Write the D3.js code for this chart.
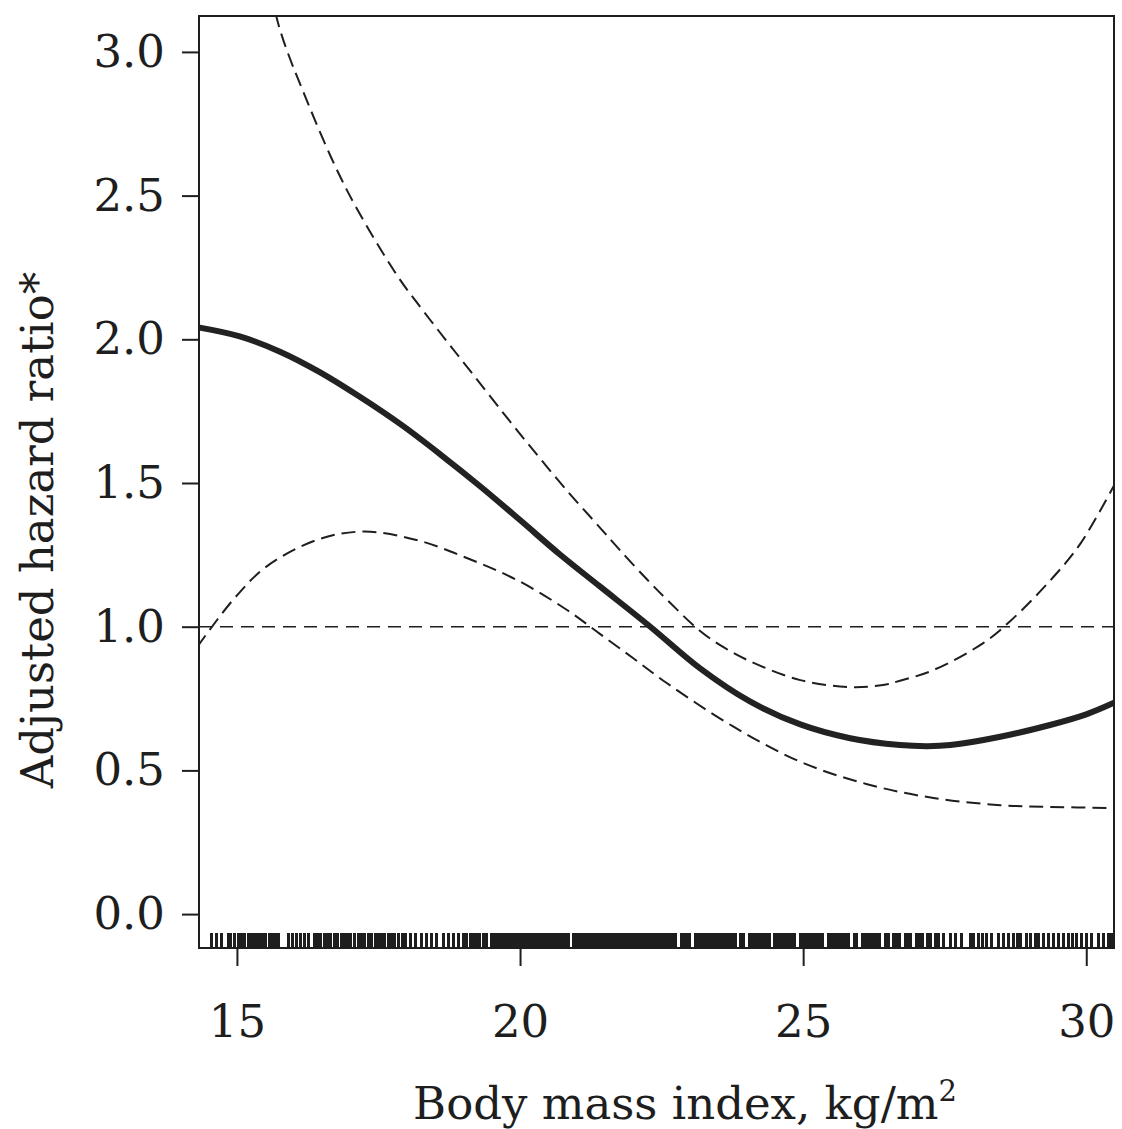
<!DOCTYPE html>
<html>
<head>
<meta charset="utf-8">
<script src="https://cdn.jsdelivr.net/npm/d3@7"></script>
<style>
  html, body { margin: 0; padding: 0; background: #ffffff; }
  svg { display: block; }
  text { font-family: "DejaVu Serif", "Liberation Serif", serif; fill: #1e1e1e; }
</style>
</head>
<body>
<svg id="chart" width="1122" height="1129"></svg>
<script>
// ---------- data ----------
const estimateBMI = [14.30, 15.05, 15.76, 16.47, 17.17, 17.90, 18.59, 19.30, 20.00, 20.70, 21.41, 22.30, 23.18, 24.06, 24.95, 25.83, 26.71, 27.20, 27.60, 28.48, 29.36, 30.00, 30.50];
const estimateHR  = [2.042, 2.010, 1.957, 1.885, 1.800, 1.703, 1.600, 1.488, 1.371, 1.252, 1.140, 1.000, 0.855, 0.740, 0.660, 0.612, 0.588, 0.584, 0.588, 0.617, 0.658, 0.695, 0.736];

const upperBMI = [15.50, 15.72, 16.23, 16.94, 17.82, 18.17, 18.70, 19.06, 19.88, 20.23, 20.80, 21.41, 21.77, 22.24, 22.59, 23.18, 23.60, 24.06, 24.95, 25.83, 26.41, 26.71, 27.30, 28.18, 28.66, 29.36, 29.90, 30.50];
const upperHR  = [3.350, 3.105, 2.833, 2.520, 2.225, 2.130, 1.995, 1.905, 1.700, 1.615, 1.480, 1.345, 1.265, 1.165, 1.095, 0.985, 0.928, 0.880, 0.814, 0.790, 0.797, 0.812, 0.849, 0.943, 1.020, 1.160, 1.290, 1.495];

const lowerBMI = [14.30, 14.93, 15.52, 16.41, 17.23, 18.17, 19.06, 19.94, 20.83, 21.41, 22.00, 22.59, 23.77, 24.95, 26.13, 27.30, 28.48, 29.36, 30.50];
const lowerHR  = [0.930, 1.093, 1.209, 1.302, 1.331, 1.302, 1.239, 1.163, 1.058, 0.975, 0.890, 0.804, 0.652, 0.530, 0.452, 0.404, 0.379, 0.373, 0.369];

const referenceHR = 1.0;

const rugBMI = [
  14.55, 14.64, 14.73, 14.85, 14.89, 14.95, 15.02, 15.08, 15.14, 15.20, 15.25, 15.31, 15.37, 15.41, 15.46, 15.51, 15.57, 15.62, 15.68, 15.74,
  15.91, 15.98, 16.05, 16.13, 16.20, 16.27, 16.37, 16.43, 16.48, 16.54, 16.60, 16.66, 16.72, 16.78, 16.84, 16.90, 16.96, 17.01, 17.07, 17.14,
  17.20, 17.26, 17.33, 17.38, 17.44, 17.50, 17.56, 17.61, 17.67, 17.73, 17.79, 17.86, 17.92, 17.98, 18.06, 18.15, 18.26, 18.35, 18.44, 18.53,
  18.65, 18.73, 18.82, 18.91, 19.00, 19.06, 19.12, 19.18, 19.23, 19.29,
  19.35, 19.40, 19.50, 19.55, 19.60, 19.65, 19.70, 19.75, 19.80, 19.85, 19.90, 19.95,
  20.00, 20.05, 20.10, 20.15, 20.20, 20.25, 20.30, 20.35, 20.40, 20.45, 20.50, 20.55, 20.60, 20.65, 20.70, 20.75, 20.80, 20.85, 20.95,
  21.00, 21.05, 21.10, 21.15, 21.20, 21.25, 21.30, 21.35, 21.40, 21.45, 21.50, 21.55, 21.60, 21.65, 21.70, 21.75, 21.80, 21.85, 21.90, 21.95,
  22.00, 22.05, 22.10, 22.15, 22.20, 22.25, 22.30, 22.35, 22.40, 22.45, 22.50, 22.55, 22.60, 22.65, 22.70, 22.75, 22.85, 22.90, 22.95,
  23.00, 23.10, 23.15, 23.20, 23.25, 23.30, 23.35, 23.40, 23.45, 23.50, 23.55, 23.60, 23.65, 23.70, 23.75, 23.80, 23.90, 23.95,
  24.05, 24.10, 24.15, 24.20, 24.25, 24.30, 24.35, 24.40, 24.50, 24.55, 24.60, 24.65, 24.70, 24.75, 24.80, 24.85, 24.95,
  25.00, 25.05, 25.10, 25.15, 25.20, 25.25, 25.30, 25.35, 25.45, 25.50, 25.55, 25.60,
  25.65, 25.70, 25.75, 25.80, 25.90, 25.95, 26.05, 26.10, 26.15, 26.20, 26.25, 26.30, 26.35, 26.45, 26.50, 26.60, 26.65, 26.70, 26.80, 26.85,
  26.90, 27.00, 27.05, 27.10, 27.20, 27.25,
  27.33, 27.39, 27.48, 27.60, 27.69, 27.80, 27.95, 28.01, 28.10, 28.16, 28.24, 28.33, 28.45, 28.54, 28.63, 28.72, 28.78, 28.83, 28.95, 29.01,
  29.10, 29.16, 29.25, 29.33, 29.42, 29.51, 29.60, 29.69, 29.75, 29.83, 29.92, 30.01, 30.10, 30.22, 30.31, 30.39, 30.45
];

const xTicks = [15, 20, 25, 30];
const yTicks = [0.0, 0.5, 1.0, 1.5, 2.0, 2.5, 3.0];
const xLabel = "Body mass index, kg/m";
const xLabelSup = "2";
const yLabel = "Adjusted hazard ratio*";

// ---------- layout ----------
const box = { l: 199, r: 1114, t: 16, b: 948 };
const ink = "#1e1e1e";
const fontSize = 45;

const svg = d3.select("#chart");
const x = d3.scaleLinear().domain([14.33, 30.49]).range([box.l, box.r]);
const y = d3.scaleLinear().domain([-0.118, 3.125]).range([box.b, box.t]);

svg.append("defs").append("clipPath").attr("id", "plotClip")
  .append("rect")
  .attr("x", box.l).attr("y", box.t)
  .attr("width", box.r - box.l).attr("height", box.b - box.t);

const plot = svg.append("g").attr("clip-path", "url(#plotClip)");

// rug
plot.append("g").attr("shape-rendering", "crispEdges")
  .selectAll("line").data(rugBMI).join("line")
  .attr("x1", d => x(d)).attr("x2", d => x(d))
  .attr("y1", box.b).attr("y2", box.b - 15)
  .attr("stroke", ink).attr("stroke-width", 3);

// reference line at HR = 1
plot.append("line")
  .attr("x1", box.l).attr("x2", box.r)
  .attr("y1", y(referenceHR)).attr("y2", y(referenceHR))
  .attr("stroke", ink).attr("stroke-width", 1.4)
  .attr("stroke-dasharray", "13,8");

const line = d3.line().x(d => x(d[0])).y(d => y(d[1])).curve(d3.curveCatmullRom.alpha(0.5));
const zip = (a, b) => a.map((v, i) => [v, b[i]]);

plot.append("path").datum(zip(upperBMI, upperHR))
  .attr("d", line).attr("fill", "none").attr("stroke", ink)
  .attr("stroke-width", 2).attr("stroke-dasharray", "14,7");

plot.append("path").datum(zip(lowerBMI, lowerHR))
  .attr("d", line).attr("fill", "none").attr("stroke", ink)
  .attr("stroke-width", 2).attr("stroke-dasharray", "14,7");

plot.append("path").datum(zip(estimateBMI, estimateHR))
  .attr("d", line).attr("fill", "none").attr("stroke", "#222")
  .attr("stroke-width", 6).attr("stroke-linecap", "round");

// box
svg.append("rect")
  .attr("x", box.l).attr("y", box.t)
  .attr("width", box.r - box.l).attr("height", box.b - box.t)
  .attr("fill", "none").attr("stroke", ink).attr("stroke-width", 2);

// axes
const yAxis = svg.append("g").attr("transform", `translate(${box.l},0)`)
  .call(d3.axisLeft(y).tickValues(yTicks).tickFormat(d3.format(".1f")).tickSize(17).tickPadding(17));
const xAxis = svg.append("g").attr("transform", `translate(0,${box.b})`)
  .call(d3.axisBottom(x).tickValues(xTicks).tickFormat(d3.format("d")).tickSize(18).tickPadding(39));

[yAxis, xAxis].forEach(g => {
  g.select(".domain").remove();
  g.selectAll(".tick line").attr("stroke", ink).attr("stroke-width", 2);
  g.selectAll(".tick text")
    .attr("font-family", "DejaVu Serif, Liberation Serif, serif")
    .attr("font-size", fontSize).attr("fill", ink);
});

// axis titles
const xt = svg.append("text")
  .attr("x", 685).attr("y", 1119)
  .attr("text-anchor", "middle")
  .attr("font-size", fontSize);
xt.append("tspan").text(xLabel);
xt.append("tspan").attr("dy", -18).attr("font-size", 29).text(xLabelSup);

svg.append("text")
  .attr("transform", "translate(53,530) rotate(-90)")
  .attr("text-anchor", "middle")
  .attr("font-size", fontSize)
  .text(yLabel);
</script>
</body>
</html>
